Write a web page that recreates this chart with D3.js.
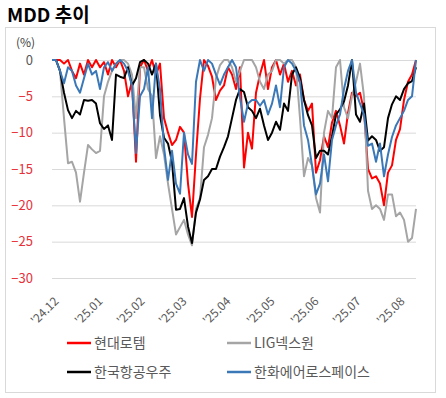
<!DOCTYPE html>
<html>
<head>
<meta charset="utf-8">
<script src="https://cdn.jsdelivr.net/npm/d3@7"></script>
<style>
  body { margin: 0; background: #fff; }
  text { font-family: "Noto Sans CJK KR", "Noto Sans", sans-serif; }
</style>
</head>
<body>
<svg id="chart"></svg>
<script>
// month labels and the sample index where each month starts
const months = ["'24.12", "'25.01", "'25.02", "'25.03", "'25.04", "'25.05", "'25.06", "'25.07", "'25.08"];
const monthIdx = [0, 11, 21.5, 32, 43, 54, 65, 75.5, 86.5];
const yTicks = [0, -5, -10, -15, -20, -25, -30];

// MDD (%) series
const hyundaiRotem = [
  0, 0, 0, -0.5, 0, -1.5, -2.5, -0.5, -2, 0,
  -1, 0, -1, -0.3, -2, 0, -1, 0, -1.5, -5,
  -3, -14, -1, 0, -1.5, 0, -2, -0.5, -8, -10,
  -11.7, -11, -9.2, -10, -17, -21.6, -13, -5.3, 0, -0.8,
  -2.3, -5.5, -4.2, -3.5, -1, -2, -4, -1, -14.8, -10,
  -12.2, -4.5, -2, 0, -4, -1, 0, -2, -0.5, -3,
  -1.5, -3.5, -2, -5.5, -7, -6, -15.5, -13.8, -10.5, -12,
  -8.6, -7, -9, -11.5, -7.3, -4.5, -5, -4.5, -7, -15,
  -16.3, -16, -17, -20, -15.5, -14.5, -11, -9.5, -5.5, -3,
  -2, 0
];
const ligNex1 = [
  0, 0, -1.5, -8, -14.2, -14, -15.5, -19.5, -15.5, -11.7,
  -12.3, -12.8, -12.5, -5, -3, -1.5, -0.5, 0, 0, -0.5,
  -2, -8, -1, -1, -4, -5, -13.5, -10.5, -13, -17,
  -20.5, -24, -23, -22, -24, -25.5, -20.5, -19, -12, -10.3,
  -8, -2.5, -0.7, 0, 0, -1, -3, -1.5, 0, 0,
  0, -1, -3, -4, -2, -1.5, 0, 0, -0.5, 0,
  0, -1, -8, -16, -13.5, -14.5, -19, -21, -10, -7,
  -8, -1, 0, -6.5, -8, -5, -3, -0.5, -5, -18,
  -20.5, -20, -20.5, -22, -18.5, -18.5, -21.5, -21, -22, -25,
  -24.5, -20.5
];
const kai = [
  0, 0, -1.5, -4.5, -6.9, -8, -7, -7.5, -5.5, -5.6,
  -5.5, -6, -8.7, -9.5, -9, -11, -2, -2.3, -2.5, -1,
  -3.5, -2.5, -0.3, 0, -0.5, -2, -0.5, -7.6, -10.7, -11.5,
  -14, -20.6, -20.5, -19, -22.9, -25.2, -21, -19.2, -16.5, -16,
  -15, -15, -13.3, -12, -10.5, -8, -5.5, -4, -4.4, -6.5,
  -7, -8, -6.7, -9, -11, -10, -8.5, -9.6, -6, -7,
  -2, -1, -2.5, -5.5, -7.6, -9, -13.5, -12.5, -12.5, -13,
  -10.5, -7.5, -6.8, -5.7, -3.5, 0, -7.5, -8.5, -6, -11.1,
  -10.5, -11, -12.5, -12, -8, -6.1, -5, -5.5, -4, -3.2,
  -2.9, -1
];
const hanwhaAero = [
  0, 0, -1.5, -3.2, -1, -1.5, -3.5, -4.5, -2.5, -0.5,
  -2, -1.5, -4, -1, -0.3, -1.5, -0.5, 0, -0.5, -1.5,
  -3.5, -12.8, -5, -4, -1, -8, -0.5, -4, -12, -16.5,
  -12.5, -17, -18.4, -10, -13, -14.3, -3, 0, -1.5, 0,
  -0.5, -2, -3.4, -2, -1, 0, -1, -5.2, -8.5, -6,
  -5.5, -5.5, -6.3, -5.5, -7.5, -6, -3.5, -6.5, -1, 0,
  -0.5, -1.5, -3, -9, -11, -14.5, -18.5, -17, -13, -16.7,
  -11, -9, -7.5, -4, -1.5, 0, -4.5, -6, -7.5, -11.8,
  -11.5, -14, -11.5, -16, -13, -10.6, -9, -8, -7, -5.5,
  -5, 0
];

const seriesNames = ["현대로템", "LIG넥스원", "한국항공우주", "한화에어로스페이스"];
const seriesValues = [hyundaiRotem, ligNex1, kai, hanwhaAero];
const colors = ["#ff0000", "#a5a5a5", "#000000", "#3b78b8"];

let width = 446, height = 398,
    plotLeft = 52, plotRight = 416, plotTop = 60, plotBottom = 278;

let svg = d3.select("#chart").attr("width", width).attr("height", height);

let xScale = d3.scaleLinear().domain([0, hyundaiRotem.length - 1]).range([plotLeft, plotRight]),
    yScale = d3.scaleLinear().domain([-30, 0]).range([plotBottom, plotTop]);

// frame
svg.append("rect")
  .attr("x", 5.5).attr("y", 27.5)
  .attr("width", 430).attr("height", 365)
  .attr("fill", "none")
  .attr("stroke", "#d9d9d9");

svg.append("text")
  .attr("x", 7).attr("y", 22)
  .text("MDD 추이")
  .style("font-weight", "bold")
  .style("font-size", "19px")
  .attr("fill", "#000");

svg.append("text")
  .attr("x", 16).attr("y", 47)
  .text("(%)")
  .style("font-size", "12px")
  .attr("fill", "#404040");

// y axis with gridlines
let yAxis = d3.axisLeft(yScale).tickValues(yTicks).tickSize(-(plotRight - plotLeft)).tickPadding(19);
let gy = svg.append("g").attr("transform", `translate(${plotLeft},0)`).call(yAxis);
gy.select(".domain").remove();
gy.selectAll(".tick line").attr("stroke", "#d9d9d9");
gy.selectAll(".tick text")
  .style("font-size", "13px")
  .attr("fill", d => d < 0 ? "#e8303a" : "#595959");

// x axis labels
let xAxis = d3.axisBottom(xScale).tickValues(monthIdx).tickFormat((d, i) => months[i]).tickSize(0);
let gx = svg.append("g").attr("transform", `translate(0,${plotBottom})`).call(xAxis);
gx.select(".domain").remove();
gx.selectAll(".tick text")
  .attr("x", 0).attr("y", 0).attr("dy", "0.35em")
  .attr("transform", "translate(4,21) rotate(-45)")
  .style("text-anchor", "end")
  .style("font-size", "12px")
  .attr("fill", "#595959");

// lines
let line = d3.line().x((d, i) => xScale(i)).y(d => yScale(d));

seriesValues.forEach((vals, k) => {
  svg.append("path")
    .datum(vals)
    .attr("d", line)
    .attr("fill", "none")
    .attr("stroke", colors[k])
    .attr("stroke-width", 2)
    .attr("stroke-linejoin", "round");
});

// legend
let legendPos = [[67, 343], [227, 343], [67, 372], [227, 372]];
seriesNames.forEach((name, k) => {
  let [lx, ly] = legendPos[k];
  svg.append("line")
    .attr("x1", lx).attr("x2", lx + 24)
    .attr("y1", ly).attr("y2", ly)
    .attr("stroke", colors[k])
    .attr("stroke-width", 2.5);
  svg.append("text")
    .attr("x", lx + 27).attr("y", ly)
    .attr("dy", "0.35em")
    .text(name)
    .style("font-size", "14px")
    .attr("fill", "#595959");
});
</script>
</body>
</html>
